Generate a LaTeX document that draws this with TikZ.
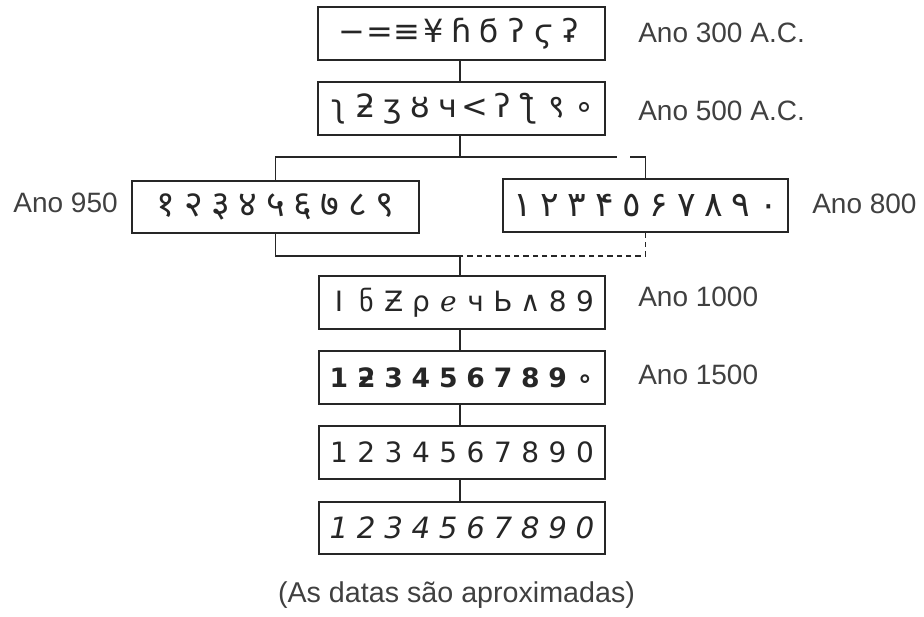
\documentclass[tikz,border=0pt]{standalone}
\usepackage{fontspec}
\setmainfont{Liberation Sans}
\newfontfamily\djv{DejaVu Sans}
\newfontfamily\deva[Script=Devanagari]{Noto Sans}
\newfontfamily\arabicfont[Script=Arabic]{DejaVu Sans}
\newcommand\dgt[1]{\makebox[20.5pt]{#1}}
\newcommand\bigsz{\fontsize{24pt}{28pt}\selectfont}
\newcommand\devsz{\fontsize{27pt}{30pt}\selectfont}
\tikzset{
  numbox/.style={draw=black!85, line width=1.4pt, minimum width=215pt,
    minimum height=39.5pt, inner sep=0pt, text=black!85,
    font=\djv\fontsize{20pt}{24pt}\selectfont},
  lbl/.style={font=\fontsize{21pt}{24pt}\selectfont, inner sep=0pt, text=black!75},
  conn/.style={draw=black!85, line width=1.4pt},
  dconn/.style={conn, dash pattern=on 4pt off 3pt}
}
\begin{document}
\begin{tikzpicture}[x=0.75pt, y=-0.75pt]
\useasboundingbox (0,0) rectangle (924,617);
% boxes
\node[numbox, font=\djv\bigsz] (b1) at (461.5,33.5)
  {\dgt{−}\dgt{=}\dgt{≡}\dgt{¥}\dgt{ɦ}\dgt{ϭ}\dgt{ʔ}\dgt{ϛ}\dgt{ʡ}};
\node[numbox, font=\djv\bigsz] (b2) at (461.5,108.5)
  {\dgt{ʅ}\dgt{ƻ}\dgt{ʒ}\dgt{ȣ}\dgt{ч}\dgt{<}\dgt{ʔ}\dgt{ƪ}\dgt{\deva ९}\dgt{∘}};
\node[numbox, font=\deva\devsz] (b950) at (275.5,207)
  {\dgt{१}\dgt{२}\dgt{३}\dgt{४}\dgt{५}\dgt{६}\dgt{७}\dgt{८}\dgt{९}};
\node[numbox, minimum width=213.5pt, font=\arabicfont\fontsize{26pt}{30pt}\selectfont] (b800) at (645.5,205.5)
  {\dgt{١}\dgt{٢}\dgt{٣}\dgt{۴}\dgt{٥}\dgt{۶}\dgt{٧}\dgt{٨}\dgt{٩}\dgt{٠}};
\node[numbox, font=\djv\fontsize{21pt}{24pt}\selectfont] (b1000) at (462,302.5)
  {\dgt{I}\dgt{ნ}\dgt{Ƶ}\dgt{ρ}\dgt{ℯ}\dgt{ч}\dgt{Ь}\dgt{∧}\dgt{8}\dgt{9}};
\node[numbox] (b1500) at (462,377.5)
  {\bfseries\dgt{1}\dgt{ƻ}\dgt{3}\dgt{4}\dgt{5}\dgt{6}\dgt{7}\dgt{8}\dgt{9}\dgt{∘}};
\node[numbox, font=\djv\fontsize{21pt}{24pt}\selectfont] (b3) at (462,452.5)
  {\dgt{1}\dgt{2}\dgt{3}\dgt{4}\dgt{5}\dgt{6}\dgt{7}\dgt{8}\dgt{9}\dgt{0}};
\node[numbox, font=\djv\itshape\fontsize{22pt}{24pt}\selectfont] (b4) at (462,528)
  {\dgt{1}\dgt{2}\dgt{3}\dgt{4}\dgt{5}\dgt{6}\dgt{7}\dgt{8}\dgt{9}\dgt{0}};
% labels
\node[lbl, anchor=base west] (l1) at (638,43) {Ano 300 A.C.};
\node[lbl, anchor=base west] (l2) at (638,120) {Ano 500 A.C.};
\node[lbl, anchor=base east] (l950) at (118,212) {Ano 950};
\node[lbl, anchor=base west] (l800) at (812,213) {Ano 800};
\node[lbl, anchor=base west] (l1000) at (638,306) {Ano 1000};
\node[lbl, anchor=base west] (l1500) at (638,384) {Ano 1500};
\node[lbl, anchor=base, font=\fontsize{21.5pt}{24pt}\selectfont] (cap) at (456.5,602) {(As datas são aproximadas)};
% junction coordinates
\coordinate (jt) at (460,157);
\coordinate (jl) at (b950.north |- jt);
\coordinate (gapL) at (617,157);
\coordinate (gapR) at (630,157);
\coordinate (jr) at (b800.north |- jt);
\coordinate (jb) at (460,256);
\coordinate (jbl) at (b950.south |- jb);
\coordinate (jbr) at (b800.south |- jb);
% connectors
\draw[conn] (b1.south -| 460,0) -- (b2.north -| 460,0);
\draw[conn] (b2.south -| 460,0) -- (jt);
\draw[conn] (b950.north) -- (jl) -- (gapL);
\draw[conn] (gapR) -- (jr) -- (b800.north);
\draw[conn] (b950.south) -- (jbl) -- (jb) -- (b1000.north -| jb);
\draw[dconn] (b800.south) -- (jbr) -- (jb);
\draw[conn] (b1000.south -| 460,0) -- (b1500.north -| 460,0);
\draw[conn] (b1500.south -| 460,0) -- (b3.north -| 460,0);
\draw[conn] (b3.south -| 460,0) -- (b4.north -| 460,0);
\end{tikzpicture}
\end{document}
